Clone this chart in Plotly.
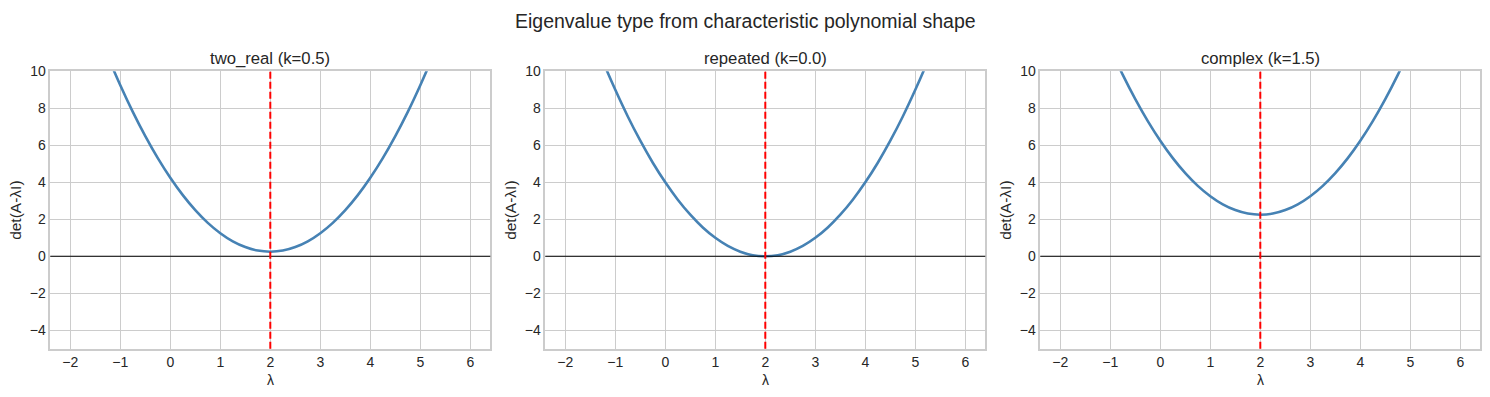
import plotly.graph_objects as go

# ---- data ----
lam = [-2.0, -1.75, -1.5, -1.25, -1.0, -0.75, -0.5, -0.25, 0.0, 0.25, 0.5, 0.75,
       1.0, 1.25, 1.5, 1.75, 2.0, 2.25, 2.5, 2.75, 3.0, 3.25, 3.5, 3.75, 4.0,
       4.25, 4.5, 4.75, 5.0, 5.25, 5.5, 5.75, 6.0]

det_two_real = [16.25, 14.31, 12.5, 10.81, 9.25, 7.81, 6.5, 5.31, 4.25, 3.31, 2.5, 1.81,
                1.25, 0.81, 0.5, 0.31, 0.25, 0.31, 0.5, 0.81, 1.25, 1.81, 2.5, 3.31, 4.25,
                5.31, 6.5, 7.81, 9.25, 10.81, 12.5, 14.31, 16.25]

det_repeated = [16.0, 14.06, 12.25, 10.56, 9.0, 7.56, 6.25, 5.06, 4.0, 3.06, 2.25, 1.56,
                1.0, 0.56, 0.25, 0.06, 0.0, 0.06, 0.25, 0.56, 1.0, 1.56, 2.25, 3.06, 4.0,
                5.06, 6.25, 7.56, 9.0, 10.56, 12.25, 14.06, 16.0]

det_complex = [18.25, 16.31, 14.5, 12.81, 11.25, 9.81, 8.5, 7.31, 6.25, 5.31, 4.5, 3.81,
               3.25, 2.81, 2.5, 2.31, 2.25, 2.31, 2.5, 2.81, 3.25, 3.81, 4.5, 5.31, 6.25,
               7.31, 8.5, 9.81, 11.25, 12.81, 14.5, 16.31, 18.25]

panel_titles = ["two_real (k=0.5)", "repeated (k=0.0)", "complex (k=1.5)"]
centers = [2.0, 2.0, 2.0]
series = [det_two_real, det_repeated, det_complex]
x_ticks = [-2, -1, 0, 1, 2, 3, 4, 5, 6]
y_ticks = [-4, -2, 0, 2, 4, 6, 8, 10]
suptitle = "Eigenvalue type from characteristic polynomial shape"

# ---- layout geometry (figure-pixel coordinates) ----
OFF = 8
W, H = 1490 - OFF, 397 - OFF
left_px = [42.3, 537.3, 1032.3]
panel_w = 440.0
top_px, bottom_px = 56.5, 339.8
y_dom = [(H - bottom_px) / H, (H - top_px) / H]
title_y, sup_y, xlab_y = 43.0, 5.0, 371.5

def py(ypix):
    return (H - ypix) / H

def px(xpix):
    return xpix / W

FONT = "Liberation Sans, Arial, sans-serif"
TXT = "#262626"
GRID = "#cccccc"

fig = go.Figure()
annotations = []
for i, (ys, title, c) in enumerate(zip(series, panel_titles, centers)):
    n = "" if i == 0 else str(i + 1)
    xa, ya = "x" + n, "y" + n
    fig.add_trace(go.Scatter(x=lam, y=ys, mode="lines", line_shape="spline",
                             line=dict(color="#4682B4", width=2.6),
                             xaxis=xa, yaxis=ya, showlegend=False,
                             hoverinfo="skip"))
    fig.add_shape(type="line", xref=xa + " domain", yref=ya, x0=0, x1=1, y0=0, y1=0,
                  line=dict(color="black", width=1.1), layer="above")
    fig.add_shape(type="line", xref=xa, yref=ya + " domain", x0=c, x1=c, y0=0, y1=1,
                  line=dict(color="red", width=2, dash="7px,3px"), layer="above")
    d0 = left_px[i] / W
    d1 = (left_px[i] + panel_w) / W
    axis_common = dict(showgrid=True, gridcolor=GRID, gridwidth=1, zeroline=False,
                       showline=True, linecolor=GRID, linewidth=1.5, mirror=True,
                       ticks="", tickfont=dict(family=FONT, size=14, color=TXT))
    fig.update_layout(**{
        "xaxis" + n: dict(domain=[d0, d1], range=[-2.4, 6.4], tickvals=x_ticks,
                          ticktext=[str(t).replace("-", "\u2212") for t in x_ticks],
                          anchor=ya, **axis_common),
        "yaxis" + n: dict(domain=y_dom, range=[-5, 10], tickvals=y_ticks,
                          ticktext=[str(t).replace("-", "\u2212") for t in y_ticks],
                          anchor=xa, **axis_common),
    })
    cx_pix = left_px[i] + panel_w / 2
    annotations.append(dict(text=title, x=px(cx_pix), y=py(title_y), xref="paper", yref="paper",
                            showarrow=False, xanchor="center", yanchor="middle",
                            font=dict(family=FONT, size=16.7, color=TXT)))
    annotations.append(dict(text="\u03bb", x=px(cx_pix), y=py(xlab_y), xref="paper", yref="paper",
                            showarrow=False, xanchor="center", yanchor="middle",
                            font=dict(family=FONT, size=14, color=TXT)))
    annotations.append(dict(text="det(A-\u03bbI)", x=px(left_px[i] - 35.5),
                            y=sum(y_dom) / 2, xref="paper", yref="paper",
                            showarrow=False, xanchor="center", yanchor="middle",
                            textangle=-90,
                            font=dict(family=FONT, size=15.5, color=TXT)))

annotations.append(dict(text=suptitle, x=px(737), y=py(sup_y), xref="paper", yref="paper",
                        showarrow=False, xanchor="center", yanchor="middle",
                        font=dict(family=FONT, size=19.5, color=TXT)))

fig.update_layout(width=W, height=H, margin=dict(l=0, r=0, t=0, b=0),
                  paper_bgcolor="white", plot_bgcolor="white",
                  annotations=annotations, showlegend=False)

fig.write_html("out.html")
